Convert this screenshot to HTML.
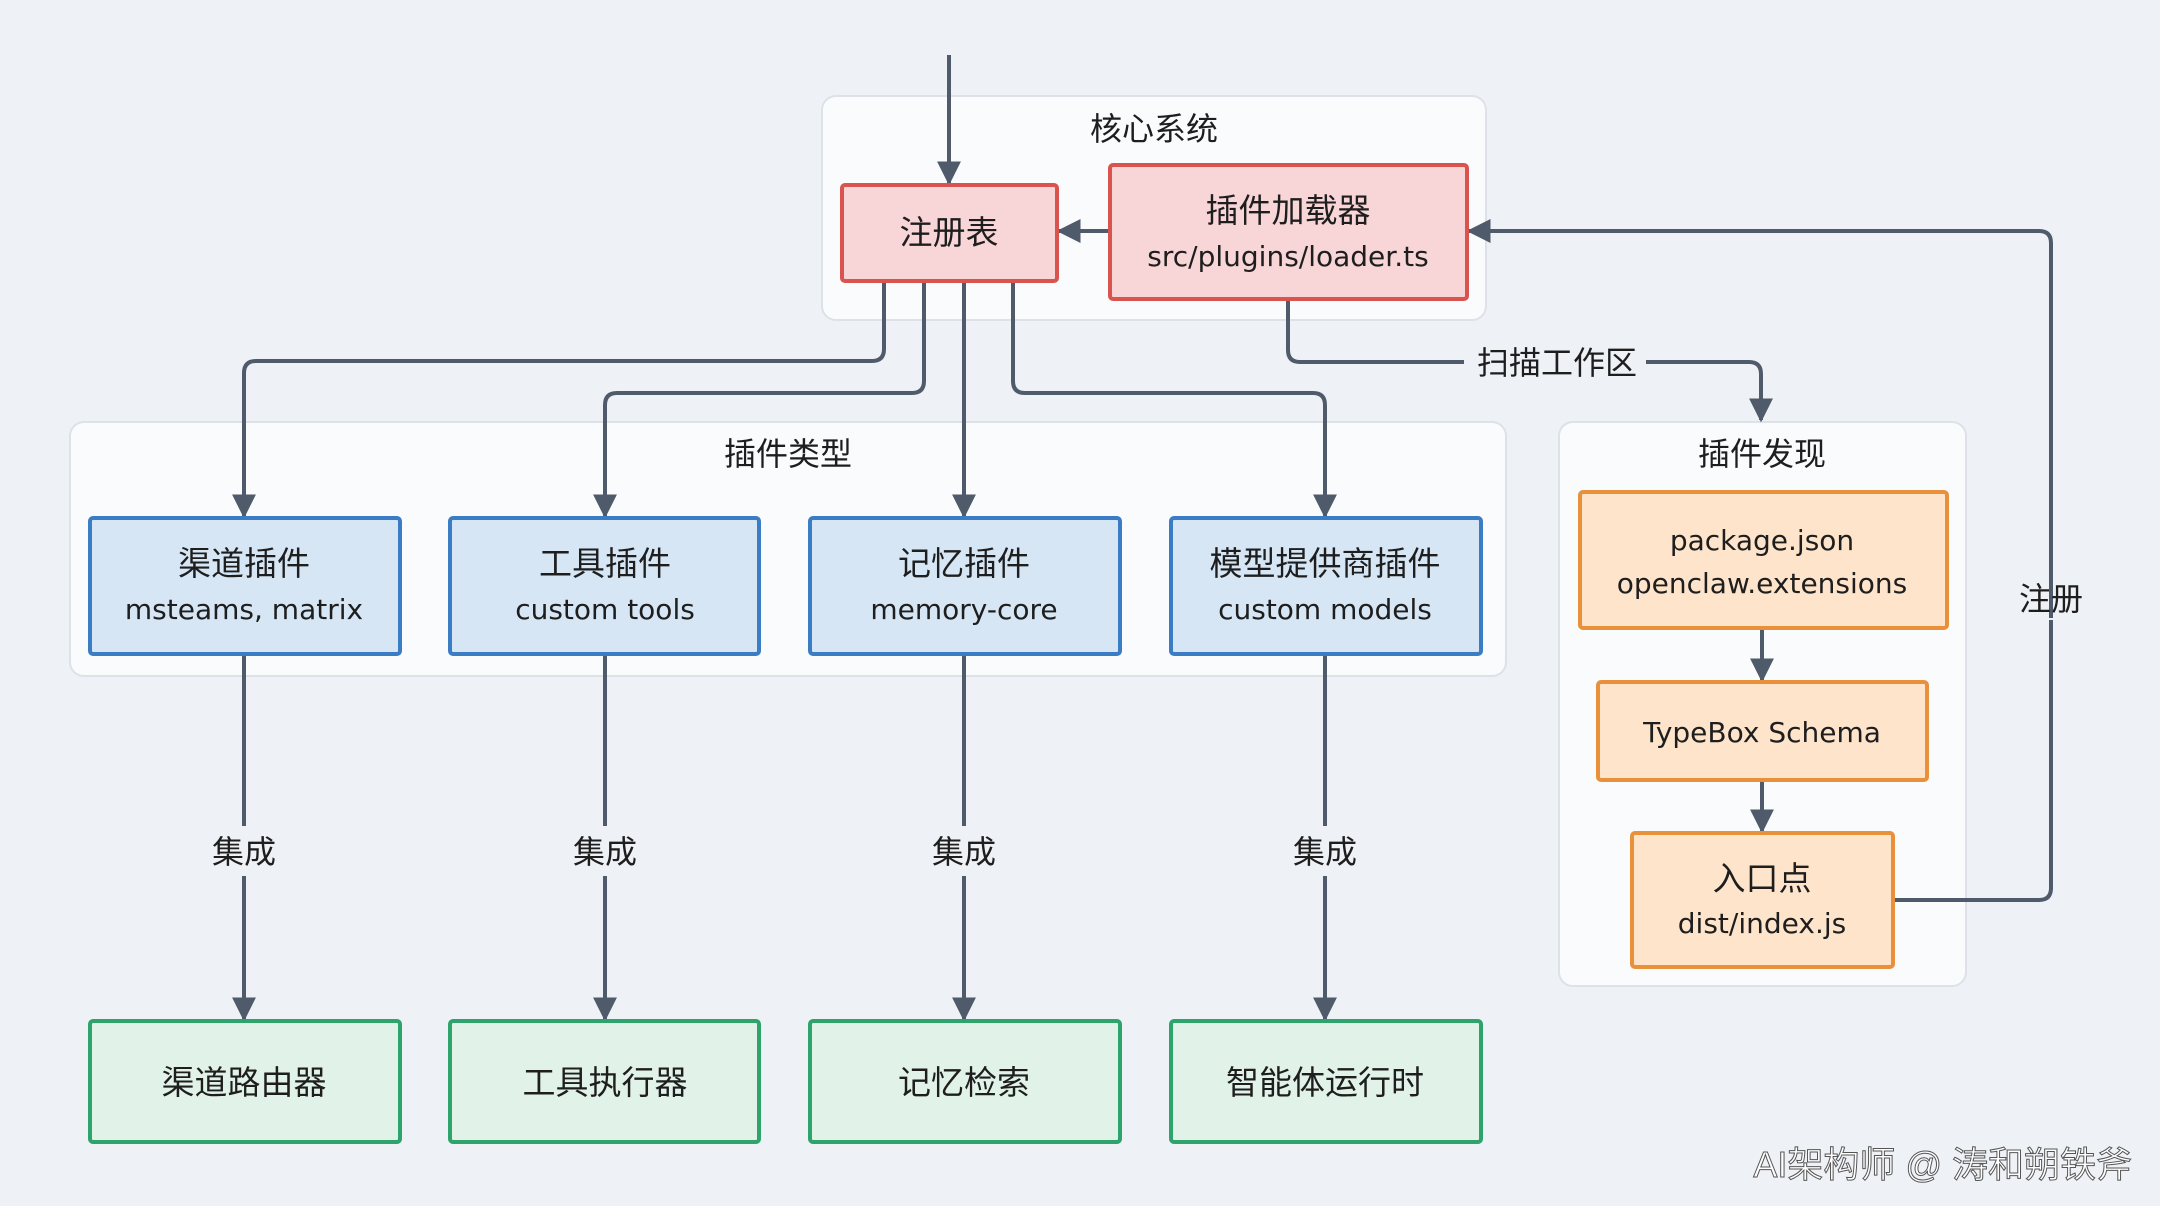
<!DOCTYPE html>
<html><head><meta charset="utf-8"><style>
html,body{margin:0;padding:0;background:#eef1f6;}
svg{display:block;}
text{font-family:"Liberation Sans","Noto Sans CJK SC",sans-serif;fill:#1e1e1e;text-anchor:middle;}
.cn{font-size:33px;}
.en{font-size:28px;font-family:"DejaVu Sans","Noto Sans CJK SC",sans-serif;}
.lbl{font-size:32px;}
</style></head><body>
<svg width="2160" height="1206" viewBox="0 0 2160 1206" xmlns="http://www.w3.org/2000/svg">
<defs>
<marker id="ar" viewBox="0 0 10 10" refX="9" refY="5" markerWidth="6" markerHeight="6" orient="auto-start-reverse">
<path d="M0,0 L10,5 L0,10 z" fill="#4f5b6b"/>
</marker>
</defs>
<rect width="2160" height="1206" fill="#eef1f6"/>
<rect x="822" y="96" width="664" height="224" rx="14" fill="#fafbfd" stroke="#dde1e8" stroke-width="2"/>
<rect x="70" y="422" width="1436" height="254" rx="14" fill="#fafbfd" stroke="#dde1e8" stroke-width="2"/>
<rect x="1559" y="422" width="407" height="564" rx="14" fill="#fafbfd" stroke="#dde1e8" stroke-width="2"/>
<text x="1154" y="140" class="lbl">核心系统</text>
<text x="788" y="465" class="lbl">插件类型</text>
<text x="1762" y="465" class="lbl">插件发现</text>

<g fill="none" stroke="#4f5b6b" stroke-width="4" marker-end="url(#ar)">
<path d="M949 55 V183"/>
<path d="M1110 231 H1059"/>
<path d="M884 281 V349 Q884 361 872 361 H256 Q244 361 244 373 V516"/>
<path d="M924 281 V381 Q924 393 912 393 H617 Q605 393 605 405 V516"/>
<path d="M964 281 V516"/>
<path d="M1013 281 V381 Q1013 393 1025 393 H1313 Q1325 393 1325 405 V516"/>
<path d="M1646 362 H1749 Q1761 362 1761 374 V420"/>
<path d="M2051 618 V243 Q2051 231 2039 231 H1469"/>
<path d="M1762 628 V680"/>
<path d="M1762 780 V831"/>
<path d="M244 876 V1019"/>
<path d="M605 876 V1019"/>
<path d="M964 876 V1019"/>
<path d="M1325 876 V1019"/>
</g>
<g fill="none" stroke="#4f5b6b" stroke-width="4">
<path d="M1288 299 V350 Q1288 362 1300 362 H1464"/>
<path d="M1893 900 H2039 Q2051 900 2051 888 V620"/>
<path d="M244 654 V826 M605 654 V826 M964 654 V826 M1325 654 V826"/>
</g>
<text x="1557" y="374" class="lbl">扫描工作区</text>
<text x="2051" y="610" class="lbl">注册</text>
<text x="244" y="863" class="lbl">集成</text>
<text x="605" y="863" class="lbl">集成</text>
<text x="964" y="863" class="lbl">集成</text>
<text x="1325" y="863" class="lbl">集成</text>

<rect x="842" y="185" width="215" height="96" rx="3" fill="#f8d5d7" stroke="#d9534f" stroke-width="4"/>
<text x="949" y="244" class="cn">注册表</text>
<rect x="1110" y="165" width="357" height="134" rx="3" fill="#f8d5d7" stroke="#d9534f" stroke-width="4"/>
<text x="1288" y="222" class="cn">插件加载器</text>
<text x="1288" y="266" class="en">src/plugins/loader.ts</text>

<g fill="#d6e6f5" stroke="#3b7dc4" stroke-width="4">
<rect x="90" y="518" width="310" height="136" rx="3"/>
<rect x="450" y="518" width="309" height="136" rx="3"/>
<rect x="810" y="518" width="310" height="136" rx="3"/>
<rect x="1171" y="518" width="310" height="136" rx="3"/>
</g>
<text x="244" y="575" class="cn">渠道插件</text><text x="244" y="619" class="en">msteams, matrix</text>
<text x="605" y="575" class="cn">工具插件</text><text x="605" y="619" class="en">custom tools</text>
<text x="964" y="575" class="cn">记忆插件</text><text x="964" y="619" class="en">memory-core</text>
<text x="1325" y="575" class="cn">模型提供商插件</text><text x="1325" y="619" class="en">custom models</text>

<g fill="#e1f3e8" stroke="#2ea36b" stroke-width="4">
<rect x="90" y="1021" width="310" height="121" rx="3"/>
<rect x="450" y="1021" width="309" height="121" rx="3"/>
<rect x="810" y="1021" width="310" height="121" rx="3"/>
<rect x="1171" y="1021" width="310" height="121" rx="3"/>
</g>
<text x="244" y="1094" class="cn">渠道路由器</text>
<text x="605" y="1094" class="cn">工具执行器</text>
<text x="964" y="1094" class="cn">记忆检索</text>
<text x="1325" y="1094" class="cn">智能体运行时</text>

<g fill="#fde4cb" stroke="#e8913a" stroke-width="4">
<rect x="1580" y="492" width="367" height="136" rx="3"/>
<rect x="1598" y="682" width="329" height="98" rx="3"/>
<rect x="1632" y="833" width="261" height="134" rx="3"/>
</g>
<text x="1762" y="550" class="en">package.json</text>
<text x="1762" y="593" class="en">openclaw.extensions</text>
<text x="1762" y="742" class="en">TypeBox Schema</text>
<text x="1762" y="890" class="cn">入口点</text>
<text x="1762" y="933" class="en">dist/index.js</text>

<text x="2132" y="1177" style="font-size:36px;fill:#ffffff;stroke:#555;stroke-width:1;text-anchor:end;">AI架构师 @ 涛和朔铁斧</text>
</svg>
</body></html>
